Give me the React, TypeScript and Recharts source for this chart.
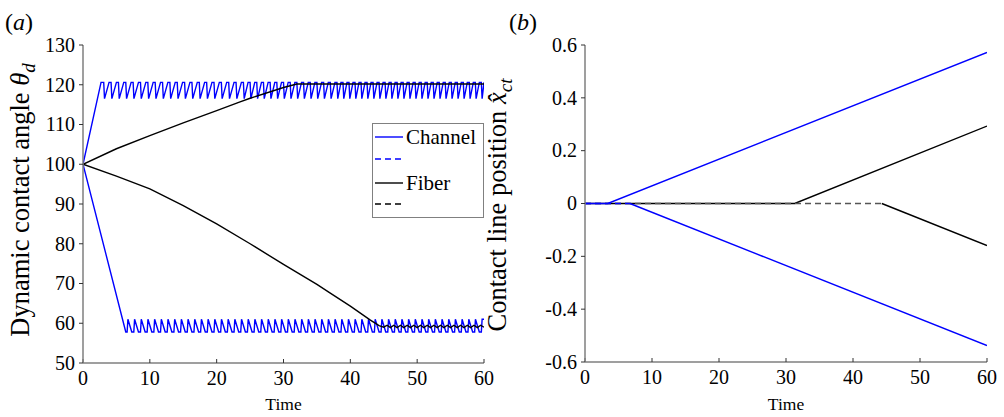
import React from 'react';
import { LineChart, Line, XAxis, YAxis, Legend } from 'recharts';

const FONT = '"Liberation Serif", "Times New Roman", serif';
const BLUE = '#0000ff';
const BLACK = '#000000';
const AXIS_GREY = '#7f7f7f';

// ---- shared ticks ----
const timeTicks = [0, 10, 20, 30, 40, 50, 60];
const angleTicks = [50, 60, 70, 80, 90, 100, 110, 120, 130];
const positionTicks = [-0.6, -0.4, -0.2, 0, 0.2, 0.4, 0.6];

// ---- panel (a): dynamic contact angle ----
const channelAdvTop = 120.6;
const channelAdvBottom = 116.5;
const channelAdvRampT = [0, 2.7];
const channelAdvRampV = [100, 120.6];
const channelAdvDrops = [
  3.1, 4.2, 5.3, 6.4, 7.5, 8.6, 9.7, 10.8, 11.9, 13.0, 14.1, 15.2, 16.3, 17.4, 18.5, 19.6, 20.7, 21.8, 22.9,
  24.0, 25.0, 26.0, 27.0, 28.0, 29.0, 30.0, 31.0, 32.0, 33.0, 34.0, 35.0, 36.0, 37.0, 38.0,
  38.9, 39.8, 40.7, 41.6, 42.5, 43.4, 44.3, 45.2, 46.1, 47.0, 47.9, 48.8, 49.7, 50.6, 51.5, 52.4,
  53.3, 54.2, 55.1, 56.0, 56.9, 57.8, 58.7, 59.6,
];

const channelRecTop = 61.0;
const channelRecBottom = 57.8;
const channelRecRampT = [0, 6.4];
const channelRecRampV = [100, 57.8];
const channelRecRises = [
  6.6, 7.6, 8.6, 9.6, 10.6, 11.6, 12.6, 13.6, 14.6, 15.6, 16.6, 17.6, 18.6, 19.6, 20.6, 21.6, 22.6, 23.6,
  24.6, 25.6, 26.6, 27.6, 28.6, 29.6, 30.6, 31.6, 32.6, 33.6, 34.6, 35.6, 36.6, 37.6, 38.6, 39.6, 40.6,
  41.6, 42.6, 43.6, 44.6, 45.6, 46.6, 47.6, 48.6, 49.6, 50.6, 51.6, 52.6, 53.6, 54.6, 55.6, 56.6, 57.6,
  58.6, 59.6,
];

const fiberAdvT = [0, 5, 10, 15, 20, 23.5, 25, 30, 32, 60];
const fiberAdvV = [100, 103.9, 107.2, 110.4, 113.5, 115.7, 116.6, 119.3, 120.2, 120.2];

const fiberRecT = [
  0, 5, 10, 15, 20, 25, 30, 35, 37, 40, 43, 44.3, 45, 45.5, 46, 46.5, 47, 47.5, 48, 48.5, 49, 49.5, 50,
  50.5, 51, 51.5, 52, 52.5, 53, 53.5, 54, 54.5, 55, 55.5, 56, 56.5, 57, 57.5, 58, 58.5, 59, 59.5, 60,
];
const fiberRecV = [
  100, 97, 93.8, 89.6, 85, 80, 74.8, 69.8, 67.6, 64.3, 60.8, 59.4, 59.0, 59.5, 58.9, 59.5, 58.9, 59.5, 58.9,
  59.5, 58.9, 59.5, 58.9, 59.5, 58.9, 59.5, 58.9, 59.5, 58.9, 59.5, 58.9, 59.5, 58.9, 59.5, 58.9, 59.5,
  58.9, 59.5, 58.9, 59.5, 58.9, 59.5, 59.0,
];

// ---- panel (b): contact line position ----
const channelAdvPosT = [0, 3.4, 60];
const channelAdvPosV = [0, 0, 0.572];
const channelRecPosT = [0, 6.7, 60];
const channelRecPosV = [0, 0, -0.538];
const fiberAdvPosT = [0, 31.3, 60];
const fiberAdvPosV = [0, 0, 0.293];
const fiberRecPosT = [0, 44.3, 60];
const fiberRecPosV = [0, 0, -0.159];

type Pt = { x: number; y: number };
const toPoints = (ts: number[], vs: number[]): Pt[] => ts.map((t, i) => ({ x: t, y: vs[i] }));

const buildAdvSaw = (): Pt[] => {
  const pts = toPoints(channelAdvRampT, channelAdvRampV);
  channelAdvDrops.forEach((d, i) => {
    pts.push({ x: d, y: channelAdvTop });
    pts.push({ x: d + 0.12, y: channelAdvBottom });
    const next = channelAdvDrops[i + 1];
    if (next !== undefined) pts.push({ x: next - 0.3, y: channelAdvTop });
    else pts.push({ x: 60, y: channelAdvTop });
  });
  return pts;
};

const buildRecSaw = (): Pt[] => {
  const pts = toPoints(channelRecRampT, channelRecRampV);
  channelRecRises.forEach((r, i) => {
    pts.push({ x: r, y: channelRecBottom });
    pts.push({ x: r + 0.12, y: channelRecTop });
    const next = channelRecRises[i + 1];
    if (next !== undefined) pts.push({ x: next - 0.3, y: channelRecBottom });
    else pts.push({ x: 60, y: channelRecTop });
  });
  return pts;
};

const channelAdvData = buildAdvSaw();
const channelRecData = buildRecSaw();
const fiberAdvData = toPoints(fiberAdvT, fiberAdvV);
const fiberRecData = toPoints(fiberRecT, fiberRecV);

const chAdvPos = toPoints(channelAdvPosT, channelAdvPosV);
const chRecPosAll = toPoints(channelRecPosT, channelRecPosV);
const fbAdvPos = toPoints(fiberAdvPosT, fiberAdvPosV);
const fbRecPosAll = toPoints(fiberRecPosT, fiberRecPosV);
// pinned (flat) part drawn dashed, moving part looks solid as in the original
const chRecPosFlat = chRecPosAll.slice(0, 2);
const chRecPosMove = chRecPosAll.slice(1);
const fbRecPosFlat = fbRecPosAll.slice(0, 2);
const fbRecPosMove = fbRecPosAll.slice(1);

const DASH = '6 4';
const LW = 1.4;

const XTick = (props: any) => {
  const { x, y, payload } = props;
  return (
    <text x={x} y={y} dy="0.72em" textAnchor="middle" fontFamily={FONT} fontSize={20} fill="#000">
      {payload.value}
    </text>
  );
};

const YTick = (props: any) => {
  const { x, y, payload } = props;
  return (
    <text x={x} y={y} dy="0.34em" textAnchor="end" fontFamily={FONT} fontSize={20} fill="#000">
      {payload.value}
    </text>
  );
};

const YLabelA = () => (
  <g>
    <text x={5} y={30} fontFamily={FONT} fontSize={24} fill="#000">
      (<tspan fontStyle="italic">a</tspan>)
    </text>
    <text
      transform="rotate(-90, 29, 200)"
      x={29}
      y={200}
      textAnchor="middle"
      fontFamily={FONT}
      fontSize={26.5}
      fill="#000"
    >
      Dynamic contact angle <tspan fontStyle="italic">θ</tspan>
      <tspan fontStyle="italic" fontSize={19} dy={6}>d</tspan>
    </text>
  </g>
);

const YLabelB = () => (
  <g>
    <text x={29} y={30} fontFamily={FONT} fontSize={24} fill="#000">
      (<tspan fontStyle="italic">b</tspan>)
    </text>
    <text
      transform="rotate(-90, 26, 205)"
      x={26}
      y={205}
      textAnchor="middle"
      fontFamily={FONT}
      fontSize={26.5}
      fill="#000"
    >
      Contact line position <tspan fontStyle="italic">{'x\u0302'}</tspan>
      <tspan fontStyle="italic" fontSize={19} dy={6}>ct</tspan>
    </text>
  </g>
);

const TimeLabel = (props: any) => {
  const vb = props.viewBox || { x: 0, y: 0, width: 0, height: 0 };
  return (
    <text x={vb.x + vb.width / 2} y={410} textAnchor="middle" fontFamily={FONT} fontSize={17.5} fill="#000">
      Time
    </text>
  );
};

const LegendBox = () => (
  <svg width={112} height={95} style={{ display: 'block' }}>
    <rect x={0.5} y={0.5} width={111} height={94} fill="#fff" stroke="#808080" strokeWidth={1} />
    <line x1={3} x2={31} y1={14} y2={14} stroke={BLUE} strokeWidth={LW} />
    <text x={34} y={21} fontFamily={FONT} fontSize={21} fill="#000">Channel</text>
    <line x1={3} x2={31} y1={36} y2={36} stroke={BLUE} strokeWidth={LW} strokeDasharray={DASH} />
    <line x1={3} x2={31} y1={60} y2={60} stroke={BLACK} strokeWidth={LW} />
    <text x={34} y={67} fontFamily={FONT} fontSize={21} fill="#000">Fiber</text>
    <line x1={3} x2={31} y1={81} y2={81} stroke={BLACK} strokeWidth={LW} strokeDasharray={DASH} />
  </svg>
);

const lineProps = { type: 'linear' as const, dataKey: 'y', dot: false, isAnimationActive: false, strokeWidth: LW };

export default function App() {
  return (
    <div style={{ position: 'absolute', left: 0, top: 0, width: 1004, height: 417, background: '#fff', overflow: 'hidden', fontFamily: FONT }}>
      <div style={{ position: 'absolute', left: 0, top: 0 }}>
        <LineChart width={500} height={417} margin={{ top: 45, right: 16, bottom: 0, left: 0 }}>
          <XAxis
            type="number"
            dataKey="x"
            domain={[0, 60]}
            ticks={timeTicks}
            allowDataOverflow
            height={54}
            axisLine={{ stroke: AXIS_GREY, strokeWidth: 1.5 }}
            tickLine={{ stroke: '#333' }}
            tickSize={-4}
            tickMargin={12}
            tick={<XTick />}
            label={<TimeLabel />}
          />
          <YAxis
            type="number"
            dataKey="y"
            domain={[50, 130]}
            ticks={angleTicks}
            allowDataOverflow
            width={83}
            axisLine={{ stroke: AXIS_GREY, strokeWidth: 1.5 }}
            tickLine={{ stroke: '#333' }}
            tickSize={4}
            tickMargin={4}
            tick={<YTick />}
            label={<YLabelA />}
          />
          <Legend
            layout="horizontal"
            verticalAlign="middle"
            align="center"
            wrapperStyle={{ position: 'absolute', left: 372, top: 123, width: 112, height: 95, margin: 0, padding: 0 }}
            content={() => <LegendBox />}
          />
          <Line {...lineProps} data={channelAdvData} stroke={BLUE} />
          <Line {...lineProps} data={channelRecData} stroke={BLUE} />
          <Line {...lineProps} data={fiberAdvData} stroke={BLACK} />
          <Line {...lineProps} data={fiberRecData} stroke={BLACK} />
        </LineChart>
      </div>
      <div style={{ position: 'absolute', left: 480, top: 0 }}>
        <LineChart width={524} height={417} margin={{ top: 45, right: 17, bottom: 0, left: 0 }}>
          <XAxis
            type="number"
            dataKey="x"
            domain={[0, 60]}
            ticks={timeTicks}
            allowDataOverflow
            height={55}
            axisLine={{ stroke: AXIS_GREY, strokeWidth: 1.5 }}
            tickLine={{ stroke: '#333' }}
            tickSize={-4}
            tickMargin={12}
            tick={<XTick />}
            label={<TimeLabel />}
          />
          <YAxis
            type="number"
            dataKey="y"
            domain={[-0.6, 0.6]}
            ticks={positionTicks}
            allowDataOverflow
            width={105}
            axisLine={{ stroke: AXIS_GREY, strokeWidth: 1.5 }}
            tickLine={{ stroke: '#333' }}
            tickSize={4}
            tickMargin={4}
            tick={<YTick />}
            label={<YLabelB />}
          />
          <Line {...lineProps} data={fbAdvPos} stroke={BLACK} />
          <Line {...lineProps} data={fbRecPosFlat} stroke="#555" strokeDasharray={DASH} />
          <Line {...lineProps} data={fbRecPosMove} stroke={BLACK} />
          <Line {...lineProps} data={chAdvPos} stroke={BLUE} />
          <Line {...lineProps} data={chRecPosFlat} stroke={BLUE} strokeDasharray={DASH} />
          <Line {...lineProps} data={chRecPosMove} stroke={BLUE} />
        </LineChart>
      </div>
    </div>
  );
}
